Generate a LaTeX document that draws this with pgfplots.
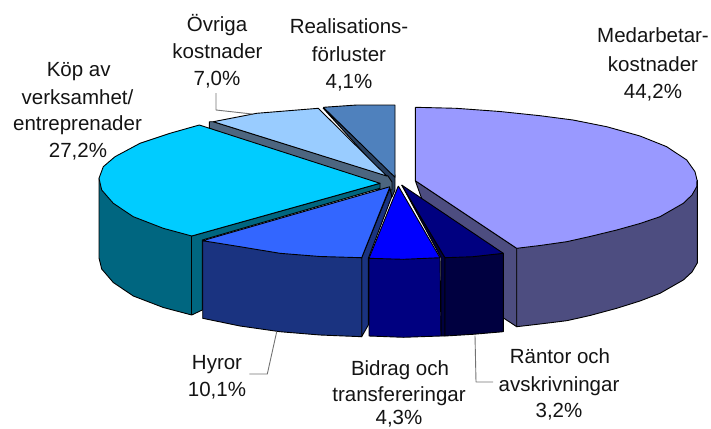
\documentclass[border=0pt]{standalone}
\usepackage{fontspec}
\setmainfont{Liberation Sans}
\usepackage{pgfplots}
\pgfplotsset{compat=1.18}
\definecolor{med}{HTML}{9999FF}\definecolor{medS}{HTML}{4D4D80}
\definecolor{ran}{HTML}{000080}\definecolor{ranS}{HTML}{000040}
\definecolor{bid}{HTML}{0000FF}\definecolor{bidS}{HTML}{000080}
\definecolor{hyr}{HTML}{3366FF}\definecolor{hyrS}{HTML}{1A3380}
\definecolor{kop}{HTML}{00CCFF}\definecolor{kopS}{HTML}{006680}
\definecolor{ovr}{HTML}{99CCFF}\definecolor{ovrS}{HTML}{4D6680}
\definecolor{rea}{HTML}{4F81BD}\definecolor{reaS}{HTML}{284060}
\begin{document}
\begin{tikzpicture}
\clip (0,0) rectangle (711pt,428pt);
\newcommand{\lab}[3]{\node[font=\fontsize{20.5}{24}\selectfont,text=black!92,inner sep=0pt,anchor=base] at (axis cs:#1,#2) {#3};}
\begin{axis}[scale only axis,width=711pt,height=428pt,xmin=0,xmax=711,ymin=0,ymax=428,y dir=reverse,hide axis,clip=false]
\pgfplotsset{every axis plot/.append style={draw=black,line width=0.9pt,line join=round}}
% Realisationsforluster
\addplot[fill=reaS] coordinates {(323,108)(395,175)(395,190)(392,197)(388,180)(323,108)};
\addplot[fill=rea] coordinates {(323.3,107.3)(356.7,105)(395,105)(395,177.3)(323.3,107.3)};
% Ovriga
\addplot[fill=ovrS] coordinates {(209.3,121.7)(213.3,121.7)(388,176)(392,182)(392,190)(380,190)(209.3,128.3)(209.3,121.7)};
\addplot[fill=ovr] coordinates {(213.3,121.7)(256.7,113.3)(318.3,108.3)(386.7,176)(213.3,121.7)};
% Medarbetar
\addplot[fill=medS] coordinates {(415.3,180.7)(516.7,248.3)(516.7,326.7)(503.5,318)(440,250)(415.3,180.7)};
\addplot[fill=medS] coordinates {(697.3,180)(697.3,263)(692,272)(683.3,280)(660,293.3)(640,301)(616.7,308.3)(590,315.5)(566.7,320.7)(540,324)(516.7,326.7)(516.7,248.3)(697.3,180)};
\addplot[fill=med] coordinates {(415.3,107.3)(456,108.3)(500,111.5)(540,115.7)(573,120)(606.7,126.7)(640,136)(666.7,146.7)(686.7,160)(695,171.7)(697,180)(696.7,186.7)(692,195)(683.3,203.3)(660,216.7)(640,223.5)(616.7,230)(590,236.5)(566.7,241.7)(540,245.5)(516.7,248.3)(415.3,180.7)(415.3,107.3)};
% Kop
\addplot[fill=kopS] coordinates {(99,178.3)(99,258)(101.7,269)(113.3,282.5)(133.3,296)(163.3,307.5)(191.7,315)(202.3,310)(202.3,240)(380,188.3)(380,183.3)(191.7,236)(99,178.3)};
\addplot[fill=kopS] coordinates {(191.7,236)(191.7,315)};
\addplot[fill=kop] coordinates {(199.3,125)(170,133.3)(140,143.3)(115,156.7)(103.3,166.7)(99,178.3)(101.7,190)(113.3,203.3)(133.3,216.7)(163.3,228.3)(191.7,236)(380,183.3)(199.3,125)};
% Hyror
\addplot[fill=hyrS] coordinates {(390,188.3)(391.7,196.7)(368.3,258.3)(368.3,325)(361.7,336.7)(361.7,257.7)(390,188.3)};
\addplot[fill=hyrS] coordinates {(202.7,240.7)(202.7,318.3)(240,326)(280,331.7)(320,335)(361.7,336.7)(361.7,257.7)(202.7,240.7)};
\addplot[fill=hyr] coordinates {(390,186.7)(202.7,240.7)(240,246.7)(280,253.3)(320,256.5)(361.7,257.7)(390,186.7)};
% Rantor
\addplot[fill=ranS] coordinates {(401.7,185)(441,257.7)(441,336)(445,336)(445,257.7)(401.7,185)};
\addplot[fill=ranS] coordinates {(445,257.7)(445,336)(473,334.3)(503.3,331.7)(503.3,253.3)(445,257.7)};
\addplot[fill=ran] coordinates {(401.7,185)(503.3,253.3)(473,256.7)(445,257.7)(401.7,185)};
% Bidrag
\addplot[fill=bidS] coordinates {(369,258.3)(369,336)(403.3,337.3)(441,336)(440,257.7)(369,258.3)};
\addplot[fill=bid] coordinates {(398.3,186)(440,257.7)(403.3,259.3)(369,258.3)(398.3,186)};
% Leader lines
\addplot[draw=black!55,line width=0.9pt] coordinates {(216,93)(216,110)(252,114)};
\addplot[draw=black!55,line width=0.9pt] coordinates {(276.7,331.7)(267.3,374)(249.3,374)};
\addplot[draw=black!55,line width=0.9pt] coordinates {(475,335.7)(476,382)(493,382)};
% Labels
\lab{217}{31.7}{Övriga}\lab{217.5}{59}{kostnader}\lab{217}{85}{7,0\%}
\lab{349}{34}{Realisations-}\lab{349}{61.7}{förluster}\lab{349}{88.3}{4,1\%}
\lab{653}{43}{Medarbetar-}\lab{653}{71}{kostnader}\lab{653}{98}{44,2\%}
\lab{78.7}{76.7}{Köp av}\lab{77.5}{104}{verksamhet/}\lab{77.5}{130}{entreprenader}\lab{78}{157}{27,2\%}
\lab{217}{369}{Hyror}\lab{217}{396}{10,1\%}
\lab{400}{375}{Bidrag och}\lab{399}{401.7}{transfereringar}\lab{399}{424.5}{4,3\%}
\lab{560}{363}{Räntor och}\lab{559}{391}{avskrivningar}\lab{559}{417}{3,2\%}
\end{axis}
\end{tikzpicture}
\end{document}
